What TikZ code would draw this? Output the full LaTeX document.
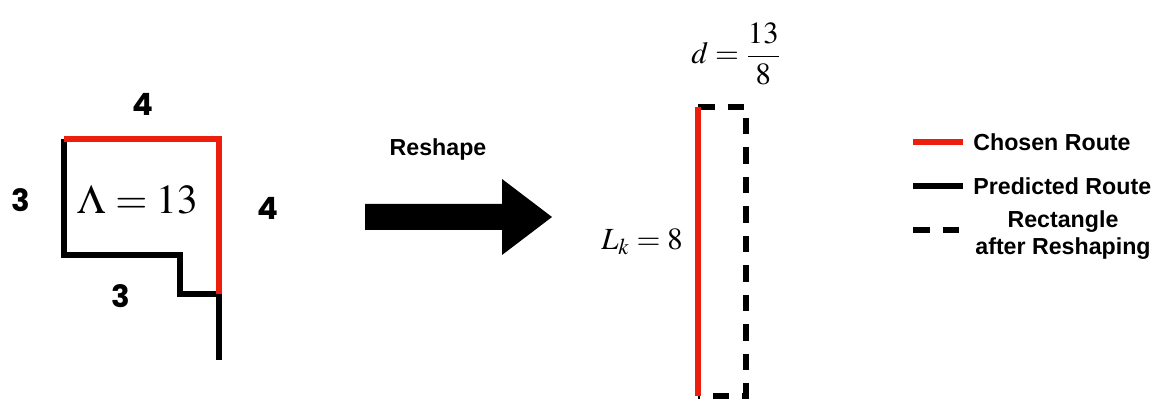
\documentclass[tikz,border=0pt]{standalone}
\usepackage{mathptmx}
\usepackage{fontspec}
\setmainfont{Liberation Serif}
\setsansfont{Liberation Sans}
\newfontfamily\sidefont{Poppins}
\usepackage{xcolor}
\usepackage{tikz}
\usetikzlibrary{positioning}

\definecolor{routered}{RGB}{236,30,14}

\begin{document}
\begin{tikzpicture}[
    x=0.02cm, y=-0.02cm,
    chosen/.style={draw=routered, line width=2.9pt},
    predicted/.style={draw=black, line width=2.9pt},
    reshaped/.style={draw=black, line width=3.4pt, dash pattern=on 0.33cm off 0.26cm},
    sidelabel/.style={font=\sidefont\bfseries\fontsize{17.5}{21}\selectfont},
    mathlabel/.style={font=\fontsize{23.5}{28}\selectfont},
    rightlabel/.style={font=\fontsize{17.5}{21}\selectfont},
    legendtext/.style={font=\sffamily\bfseries\fontsize{13.2}{15.5}\selectfont, align=center, inner sep=0pt}
]
\useasboundingbox (0,0) rectangle (1162,401);

% route before reshaping
\coordinate (tl) at (64,139);
\coordinate (tr) at (219,139);
\coordinate (bl) at (64,255);
\coordinate (s1) at (180,255);
\coordinate (s2) at (180,294);
\coordinate (s3) at (219,294);
\coordinate (end) at (219,360);

\draw[predicted] (tl) -- (bl) -- (s1) -- (s2) -- (s3) -- (end);
\draw[chosen] (tl) -- (tr) -- (s3);

\node[sidelabel] (toplen) at (143,104) {4};
\node[sidelabel] (leftlen) at (21,200) {3};
\node[sidelabel] (rightlen) at (268,208) {4};
\node[sidelabel] (bottomlen) at (121,296) {3};
\node[mathlabel] (area) at (138,200) {$\Lambda = 13$};

% reshape arrow
\fill (365,204) -- (502,204) -- (502,179) -- (552,217) -- (502,255) -- (502,230) -- (365,230) -- cycle;
\node[legendtext] (reshape) at (438,150) {Reshape};

% rectangle after reshaping
\coordinate (rtl) at (698,107);
\coordinate (rtr) at (746,107);
\coordinate (rbr) at (746,396);
\coordinate (rbl) at (698,396);

\draw[reshaped] (rtl) -- (rtr) -- (rbr) -- (rbl);
\draw[chosen, line width=3.4pt] (rtl) -- (rbl);

\node[rightlabel] (height) at (642,242) {$L_k = 8$};
\node[rightlabel] (width) at (736,54) {$\displaystyle d = \frac{13}{8}$};

% legend
\node[legendtext, anchor=west] (chosenleg) at (973,142) {Chosen Route};
\node[legendtext, anchor=west] (predleg) at (973,186) {Predicted Route};
\node[legendtext] (rectleg) at (1063,235) {Rectangle\\after Reshaping};

\draw[chosen, line width=3.4pt] ([xshift=-1.2cm]chosenleg.west) -- ([xshift=-0.2cm]chosenleg.west);
\draw[predicted, line width=3.4pt] ([xshift=-1.2cm]predleg.west) -- ([xshift=-0.2cm]predleg.west);
\coordinate (dashstart) at (913,230);
\coordinate (dashend) at (961,230);
\draw[reshaped] (dashstart) -- (dashend);

\end{tikzpicture}
\end{document}
